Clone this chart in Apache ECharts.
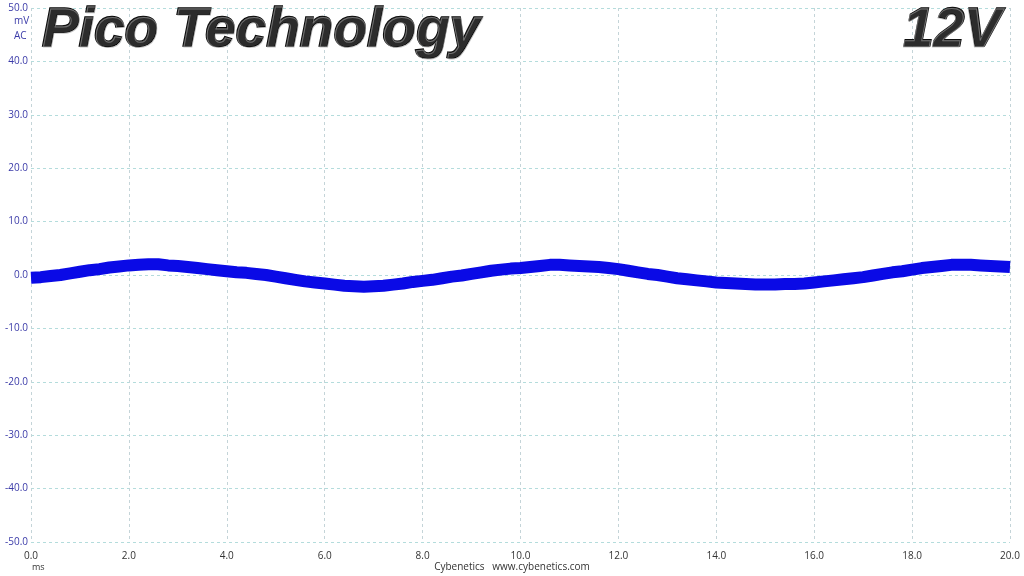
<!DOCTYPE html>
<html><head><meta charset="utf-8">
<script src="https://cdn.jsdelivr.net/npm/echarts@6/dist/echarts.min.js"></script>
<style>html,body{margin:0;padding:0;background:#fff}#c{width:1024px;height:576px}</style>
</head><body><div id="c"></div>
<script>
// time axis (ms), step 0.2
const timeStart = 0, timeStep = 0.2;
// ripple trace centreline (mV), every 0.2 ms
const rippleMv = [
 -0.5,-0.4,-0.2,0.0,0.3,0.6,0.9,1.1,1.4,1.6,
 1.8,1.9,2.0,2.0,1.8,1.7,1.5,1.3,1.1,0.9,
 0.7,0.5,0.4,0.2,0.0,-0.3,-0.6,-0.9,-1.2,-1.4,
 -1.6,-1.8,-2.0,-2.1,-2.2,-2.1,-2.0,-1.8,-1.6,-1.3,
 -1.1,-0.9,-0.6,-0.3,-0.1,0.2,0.5,0.8,1.0,1.2,
 1.3,1.5,1.7,1.9,1.9,1.8,1.7,1.6,1.5,1.3,
 1.1,0.8,0.5,0.2,0.0,-0.3,-0.6,-0.8,-1.0,-1.2,
 -1.4,-1.5,-1.6,-1.7,-1.8,-1.8,-1.8,-1.7,-1.7,-1.6,
 -1.4,-1.2,-1.0,-0.8,-0.6,-0.4,-0.1,0.2,0.5,0.7,
 1.0,1.3,1.5,1.7,1.9,1.9,1.9,1.8,1.7,1.6,
 1.5
];
const yTicks = [-50,-40,-30,-20,-10,0,10,20,30,40,50];
const xTicks = [0,2,4,6,8,10,12,14,16,18,20];
const titleText = 'Pico Technology';
const railText = '12V';
const unitY = ['mV','AC'];
const unitX = 'ms';
const footer = 'Cybenetics   www.cybenetics.com';

const data = rippleMv.map((v,i)=>[+(timeStart+i*timeStep).toFixed(2), v]);
const chart = echarts.init(document.getElementById('c'));
const font = 'Open Sans, Noto Sans, sans-serif';
const titleFont = 'italic bold 55px "Liberation Sans", Arial, sans-serif';
function titleStyle(t){
  return {text:t,font:titleFont,fill:'#2c2c2c',stroke:'#050505',lineWidth:1.6,
    shadowColor:'rgba(0,0,0,0.35)',shadowBlur:2,shadowOffsetX:3,shadowOffsetY:3};
}
function highlight(t){
  return {text:t,font:titleFont,fill:'rgba(0,0,0,0)',stroke:'rgba(160,160,160,0.6)',lineWidth:1};
}
chart.setOption({
  animation:false,
  backgroundColor:'#fff',
  grid:{left:31,right:14,top:8,bottom:34},
  xAxis:{type:'value',min:0,max:20,interval:2,
    axisLine:{show:false},axisTick:{show:false},
    axisLabel:{color:'#333',fontSize:10,fontFamily:font,margin:9,formatter:v=>v.toFixed(1)},
    splitLine:{show:true,lineStyle:{color:'#c4d4d8',type:[3,3],width:1}}},
  yAxis:{type:'value',min:-50,max:50,interval:10,
    axisLine:{show:false},axisTick:{show:false},
    axisLabel:{color:'#3a3aa8',fontSize:10,fontFamily:font,margin:3,formatter:v=>v.toFixed(1)},
    splitLine:{show:true,lineStyle:{color:'#b4dcdc',type:[3,3],width:1}}},
  series:[{type:'line',data:data,showSymbol:false,smooth:false,
    lineStyle:{color:'#0a0ae6',width:12,cap:'butt',join:'round'},z:3}],
  graphic:[
    {type:'text',left:41,top:3,z:10,style:titleStyle(titleText)},
    {type:'text',left:42,top:4,z:11,style:highlight(titleText)},
    {type:'text',right:22,top:3,z:10,style:titleStyle(railText)},
    {type:'text',right:23,top:4,z:11,style:highlight(railText)},
    {type:'text',left:14,top:16,style:{text:unitY[0],font:'10px '+font,fill:'#3a3aa8'}},
    {type:'text',left:14,top:31,style:{text:unitY[1],font:'10px '+font,fill:'#3a3aa8'}},
    {type:'text',left:32,top:563,style:{text:unitX,font:'9px '+font,fill:'#333'}},
    {type:'text',left:'center',top:562,style:{text:footer,font:'10px '+font,fill:'#333'}}
  ]
});
</script></body></html>
